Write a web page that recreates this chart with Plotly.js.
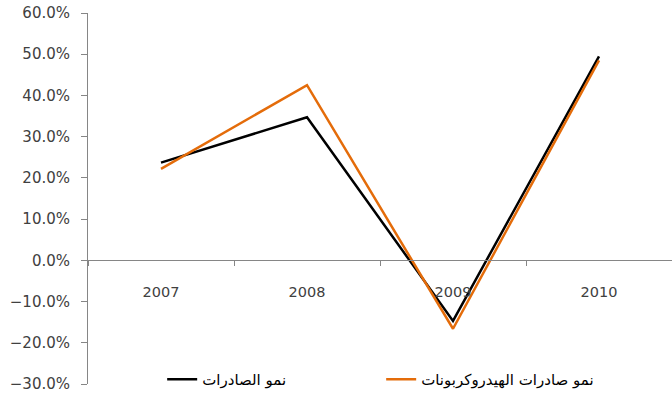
<!DOCTYPE html>
<html>
<head>
<meta charset="utf-8">
<script src="https://cdn.plot.ly/plotly-3.0.1.min.js"></script>
<style>
html,body{margin:0;padding:0;background:#fff;}
#chart{width:672px;height:398px;}
</style>
</head>
<body>
<div id="chart"></div>
<script>
const years = ['2007', '2008', '2009', '2010'];
const exportsGrowth = [0.237, 0.347, -0.147, 0.495];
const hydroExportsGrowth = [0.222, 0.425, -0.166, 0.485];
const seriesNames = ['نمو الصادرات', 'نمو صادرات الهيدروكربونات'];

const traces = [
  {x: years, y: exportsGrowth, name: seriesNames[0], type: 'scatter', mode: 'lines',
   line: {color: '#000000', width: 2.5}},
  {x: years, y: hydroExportsGrowth, name: seriesNames[1], type: 'scatter', mode: 'lines',
   line: {color: '#E46C0A', width: 2.5}}
];

const layout = {
  width: 672, height: 398,
  margin: {l: 88, r: 0, t: 13, b: 14},
  paper_bgcolor: '#ffffff', plot_bgcolor: '#ffffff',
  font: {family: 'DejaVu Sans, sans-serif', size: 14, color: '#404040'},
  showlegend: true,
  legend: {orientation: 'h', x: 0.127, xanchor: 'left', y: 0.012, yanchor: 'middle',
           font: {family: 'DejaVu Sans, sans-serif', size: 15, color: '#000000'},
           entrywidth: 174, entrywidthmode: 'pixels', bgcolor: 'rgba(0,0,0,0)'},
  xaxis: {type: 'category', range: [-0.5, 3.5], anchor: 'free', position: 1/3,
          showline: true, linecolor: '#868686', linewidth: 1,
          ticks: 'outside', tickson: 'boundaries', ticklen: 5, tickcolor: '#868686',
          showgrid: false, zeroline: false, ticklabelstandoff: 18,
          tickfont: {size: 14.5, color: '#404040'}, fixedrange: true},
  yaxis: {range: [-0.30, 0.60], dtick: 0.1, tick0: 0, tickformat: '.1%',
          showline: true, linecolor: '#868686', linewidth: 1,
          ticks: 'outside', ticklen: 6, tickcolor: '#868686',
          showgrid: false, zeroline: false, ticklabelstandoff: 8,
          tickfont: {size: 15, color: '#404040'}, fixedrange: true}
};

Plotly.newPlot('chart', traces, layout, {displayModeBar: false, staticPlot: true});
</script>
</body>
</html>
